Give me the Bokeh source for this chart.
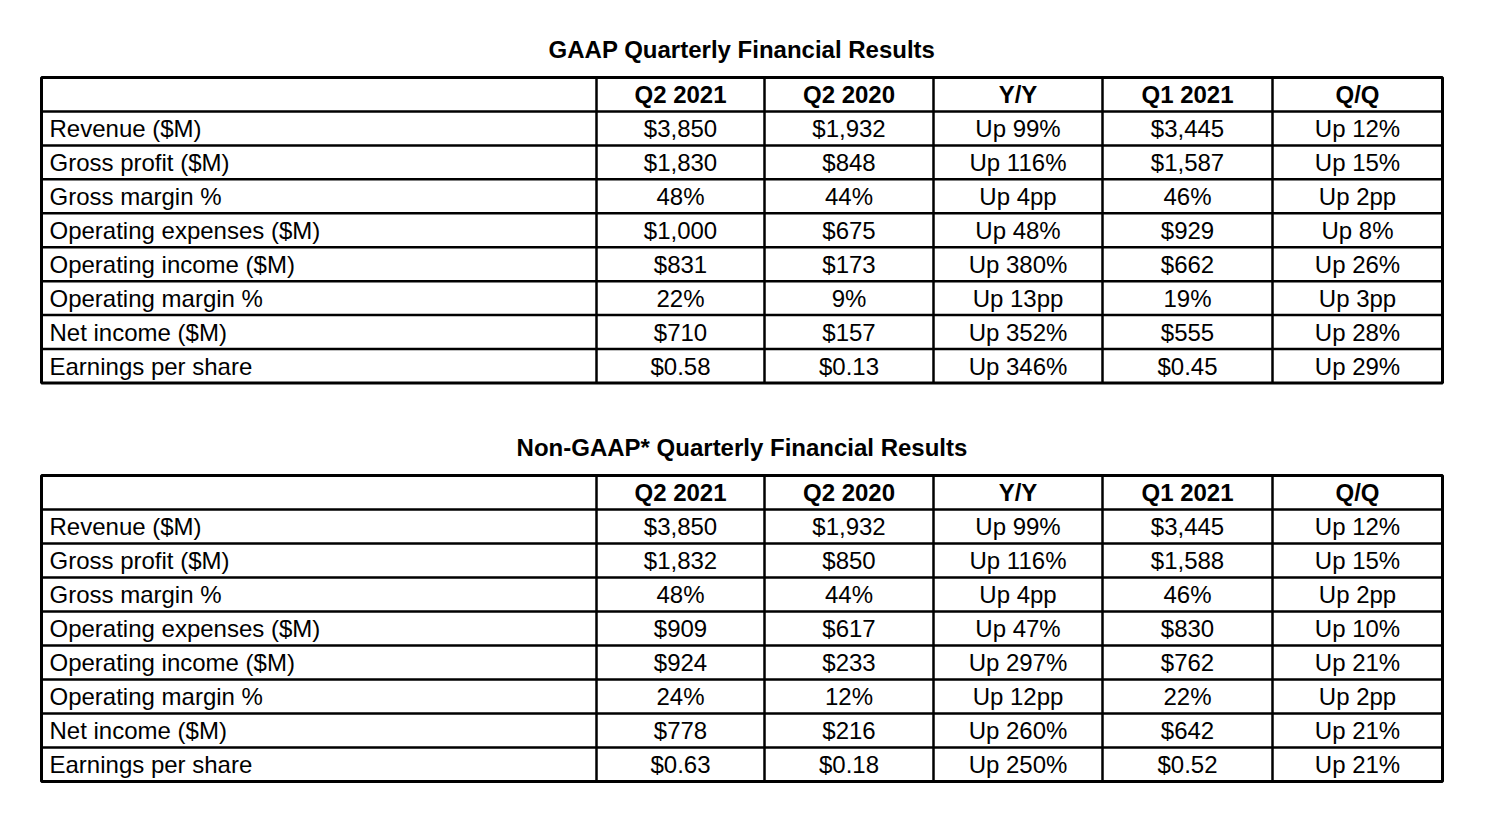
from bokeh.plotting import figure
from bokeh.models import Range1d
from bokeh.core.properties import value
from bokeh.embed import file_html
from bokeh.resources import INLINE

# ---------------- data ----------------
columns = ["Q2 2021", "Q2 2020", "Y/Y", "Q1 2021", "Q/Q"]
row_labels = ["Revenue ($M)", "Gross profit ($M)", "Gross margin %", "Operating expenses ($M)",
              "Operating income ($M)", "Operating margin %", "Net income ($M)", "Earnings per share"]

gaap_title = "GAAP Quarterly Financial Results"
gaap_q2_2021 = ["$3,850", "$1,830", "48%", "$1,000", "$831", "22%", "$710", "$0.58"]
gaap_q2_2020 = ["$1,932", "$848", "44%", "$675", "$173", "9%", "$157", "$0.13"]
gaap_yy = ["Up 99%", "Up 116%", "Up 4pp", "Up 48%", "Up 380%", "Up 13pp", "Up 352%", "Up 346%"]
gaap_q1_2021 = ["$3,445", "$1,587", "46%", "$929", "$662", "19%", "$555", "$0.45"]
gaap_qq = ["Up 12%", "Up 15%", "Up 2pp", "Up 8%", "Up 26%", "Up 3pp", "Up 28%", "Up 29%"]

nongaap_title = "Non-GAAP* Quarterly Financial Results"
ng_q2_2021 = ["$3,850", "$1,832", "48%", "$909", "$924", "24%", "$778", "$0.63"]
ng_q2_2020 = ["$1,932", "$850", "44%", "$617", "$233", "12%", "$216", "$0.18"]
ng_yy = ["Up 99%", "Up 116%", "Up 4pp", "Up 47%", "Up 297%", "Up 12pp", "Up 260%", "Up 250%"]
ng_q1_2021 = ["$3,445", "$1,588", "46%", "$830", "$762", "22%", "$642", "$0.52"]
ng_qq = ["Up 12%", "Up 15%", "Up 2pp", "Up 10%", "Up 21%", "Up 2pp", "Up 21%", "Up 21%"]

# ---------------- layout ----------------
W, H = 1470, 810
col_edges = [41, 596, 764, 933, 1102, 1272, 1442]
tables = [
    (gaap_title, 49, 77, 382.5, [gaap_q2_2021, gaap_q2_2020, gaap_yy, gaap_q1_2021, gaap_qq]),
    (nongaap_title, 447, 475, 781, [ng_q2_2021, ng_q2_2020, ng_yy, ng_q1_2021, ng_qq]),
]
FONT = value("Liberation Sans")
FS = "24px"

p = figure(width=W, height=H, x_range=Range1d(0, W), y_range=Range1d(H, 0),
           output_backend="svg", toolbar_location=None, min_border=0,
           x_axis_location=None, y_axis_location=None)
p.grid.visible = False
p.outline_line_color = None
p.background_fill_color = "white"
p.border_fill_color = "white"

for title, ty, top, bottom, cols in tables:
    nrows = len(row_labels) + 1
    rh = (bottom - top) / nrows
    cx = (col_edges[0] + col_edges[-1]) / 2
    p.text(x=[cx], y=[ty], text=[title], text_align="center", text_baseline="middle",
           text_font=FONT, text_font_size=FS, text_font_style="bold", text_color="black")

    # header
    hx = [(col_edges[i + 1] + col_edges[i + 2]) / 2 for i in range(len(columns))]
    p.text(x=hx, y=[top + rh / 2] * len(columns), text=columns, text_align="center",
           text_baseline="middle", text_font=FONT, text_font_size=FS, text_font_style="bold",
           text_color="black")

    # row labels
    ys = [top + rh * (r + 1) + rh / 2 for r in range(len(row_labels))]
    p.text(x=[col_edges[0] + 8] * len(row_labels), y=ys, text=row_labels, text_align="left",
           text_baseline="middle", text_font=FONT, text_font_size=FS, text_color="black")

    # values
    xs, yv, tv = [], [], []
    for ci, colvals in enumerate(cols):
        for ri, v in enumerate(colvals):
            xs.append(hx[ci]); yv.append(ys[ri]); tv.append(v)
    p.text(x=xs, y=yv, text=tv, text_align="center", text_baseline="middle",
           text_font=FONT, text_font_size=FS, text_color="black")

    # inner grid lines
    x0s, y0s, x1s, y1s = [], [], [], []
    for r in range(1, nrows):
        y = top + rh * r
        x0s.append(col_edges[0]); x1s.append(col_edges[-1]); y0s.append(y); y1s.append(y)
    for c in col_edges[1:-1]:
        x0s.append(c); x1s.append(c); y0s.append(top); y1s.append(bottom)
    p.segment(x0=x0s, y0=y0s, x1=x1s, y1=y1s, line_color="black", line_width=2.5)
    # outer border
    p.quad(left=[col_edges[0]], right=[col_edges[-1]], top=[top], bottom=[bottom],
           fill_color=None, line_color="black", line_width=3)

open("out.html", "w").write(file_html(p, INLINE))
